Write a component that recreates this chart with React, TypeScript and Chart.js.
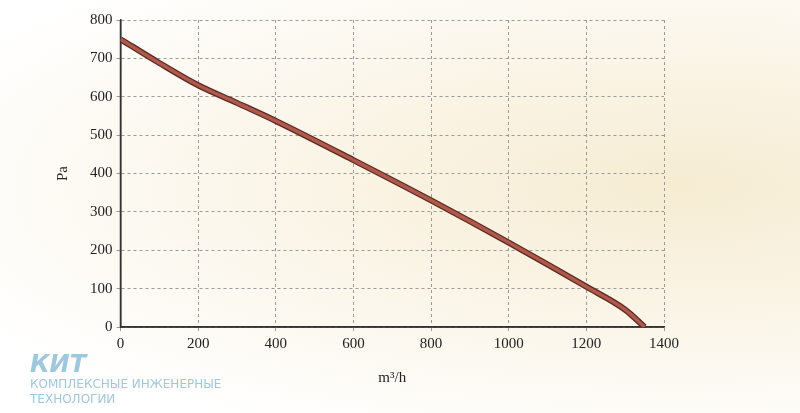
import React, { useEffect, useRef } from "react";
import { Chart, registerables } from "chart.js";
Chart.register(...registerables);

const flow = [0, 100, 200, 300, 400, 600, 800, 1000, 1200, 1300, 1350];
const pressure = [750, 688, 630, 584, 537, 435, 330, 220, 105, 45, 0];
const xTicks = [0, 200, 400, 600, 800, 1000, 1200, 1400];
const yTicks = [0, 100, 200, 300, 400, 500, 600, 700, 800];

export default function App() {
  const ref = useRef<HTMLCanvasElement>(null);
  useEffect(() => {
    const data = flow.map((x, i) => ({ x, y: pressure[i] }));
    const font = { family: "Liberation Serif", size: 15 };
    const chart = new Chart(ref.current!, {
      type: "line",
      data: {
        datasets: [
          { data, borderColor: "#b0594a", borderWidth: 3.5, pointRadius: 0, cubicInterpolationMode: "monotone" },
          { data, borderColor: "#5a2a22", borderWidth: 6, pointRadius: 0, cubicInterpolationMode: "monotone" },
        ],
      },
      options: {
        animation: false,
        responsive: false,
        layout: { padding: { left: 50, right: 136, top: 20, bottom: 22 } },
        plugins: { legend: { display: false }, tooltip: { enabled: false } },
        scales: {
          x: {
            type: "linear", min: 0, max: 1400,
            afterBuildTicks: (s: any) => { s.ticks = xTicks.map((v) => ({ value: v })); },
            grid: { color: "#9a9a9a", tickLength: 4 },
            border: { color: "#333", width: 1.5, dash: [3, 3] },
            ticks: { color: "#222", font, padding: 4, callback: (v: any) => String(v) },
            title: { display: true, text: "m³/h", color: "#222", font: { family: "Liberation Serif", size: 15 }, padding: { top: 12 } },
          },
          y: {
            min: 0, max: 800,
            afterBuildTicks: (s: any) => { s.ticks = yTicks.map((v) => ({ value: v })); },
            grid: { color: "#9a9a9a", tickLength: 4 },
            border: { color: "#333", width: 1.5, dash: [3, 3] },
            ticks: { color: "#222", font, padding: 4, callback: (v: any) => String(v) },
            title: { display: true, text: "Pa", color: "#222", font: { family: "Liberation Serif", size: 15 }, padding: { bottom: 14 } },
          },
        },
      },
      plugins: [{
        id: "solidAxes",
        beforeDatasetsDraw(c: any) {
          const { ctx, chartArea: a } = c;
          ctx.save();
          ctx.strokeStyle = "#333"; ctx.lineWidth = 1.5;
          ctx.beginPath();
          ctx.moveTo(a.left, a.top); ctx.lineTo(a.left, a.bottom); ctx.lineTo(a.right, a.bottom);
          ctx.stroke();
          ctx.restore();
        },
      }],
    } as any);
    return () => chart.destroy();
  }, []);
  return (
    <div style={{ position: "fixed", left: 0, top: 0, width: 800, height: 413,
      background: "radial-gradient(ellipse at 85% 45%, #f6ecd2 0%, #fbf6ea 45%, #ffffff 85%)" }}>
      <canvas ref={ref} width={800} height={413} style={{ position: "absolute", left: 0, top: 0 }} />
      <div style={{ position: "absolute", left: 30, top: 352, color: "#9cc8e0", fontFamily: "DejaVu Sans", lineHeight: 1 }}>
        <div style={{ fontSize: 24, fontWeight: "bold", fontStyle: "italic" }}>КИТ</div>
        <div style={{ fontSize: 12, marginTop: 2 }}>КОМПЛЕКСНЫЕ ИНЖЕНЕРНЫЕ</div>
        <div style={{ fontSize: 12, marginTop: 3 }}>ТЕХНОЛОГИИ</div>
      </div>
    </div>
  );
}
